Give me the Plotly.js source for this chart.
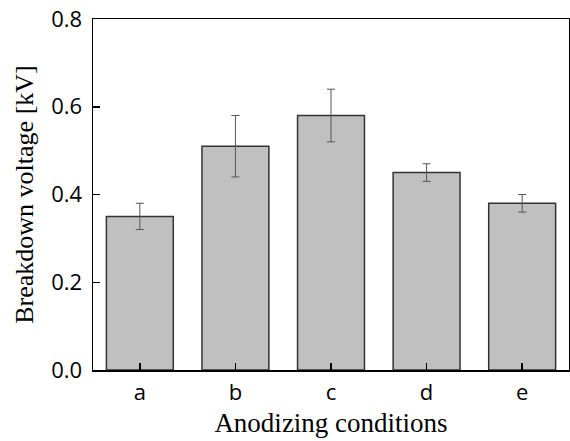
<!DOCTYPE html>
<html>
<head>
<meta charset="utf-8">
<script src="https://cdn.plot.ly/plotly-3.0.1.min.js"></script>
<style>html,body{margin:0;padding:0;background:#fff;}#chart{width:570px;height:441px;}</style>
</head>
<body>
<div id="chart"></div>
<script>
const categories = ['a', 'b', 'c', 'd', 'e'];
const voltage = [0.35, 0.51, 0.58, 0.45, 0.38];
const errors = [0.03, 0.07, 0.06, 0.02, 0.02];
const yTicks = [0.0, 0.2, 0.4, 0.6, 0.8];
const yTickText = ['0.0', '0.2', '0.4', '0.6', '0.8'];

const trace = {
  type: 'bar',
  x: categories,
  y: voltage,
  width: 0.7,
  marker: {color: '#c0c0c0', line: {color: '#333333', width: 1.5}},
  error_y: {type: 'data', array: errors, visible: true, color: '#555555', thickness: 1, width: 4}
};

const layout = {
  width: 570, height: 441,
  margin: {l: 93, r: 1, t: 19, b: 71},
  paper_bgcolor: '#ffffff', plot_bgcolor: '#ffffff',
  showlegend: false,
  font: {family: 'Times New Roman', size: 26, color: '#000'},
  xaxis: {
    type: 'category',
    range: [-0.49, 4.49],
    layer: 'above traces',
    showline: true, linecolor: '#000', linewidth: 1.5, mirror: true,
    ticks: 'inside', ticklen: 7, tickwidth: 1.5, tickcolor: '#000',
    showgrid: false, zeroline: false,
    tickfont: {family: 'Open Sans', size: 22, color: '#000'},
    ticklabelstandoff: 2,
    title: {text: 'Anodizing conditions', font: {size: 27}, standoff: 8}
  },
  yaxis: {
    range: [0, 0.8],
    layer: 'above traces',
    tickvals: yTicks, ticktext: yTickText,
    showline: true, linecolor: '#000', linewidth: 1.5, mirror: true,
    ticks: 'inside', ticklen: 7, tickwidth: 1.5, tickcolor: '#000',
    showgrid: false, zeroline: false,
    tickfont: {family: 'Open Sans', size: 22, color: '#000'},
    ticklabelstandoff: 5,
    title: {text: 'Breakdown voltage [kV]', font: {size: 26}, standoff: 10}
  }
};

Plotly.newPlot('chart', [trace], layout, {displayModeBar: false, staticPlot: true});
</script>
</body>
</html>
